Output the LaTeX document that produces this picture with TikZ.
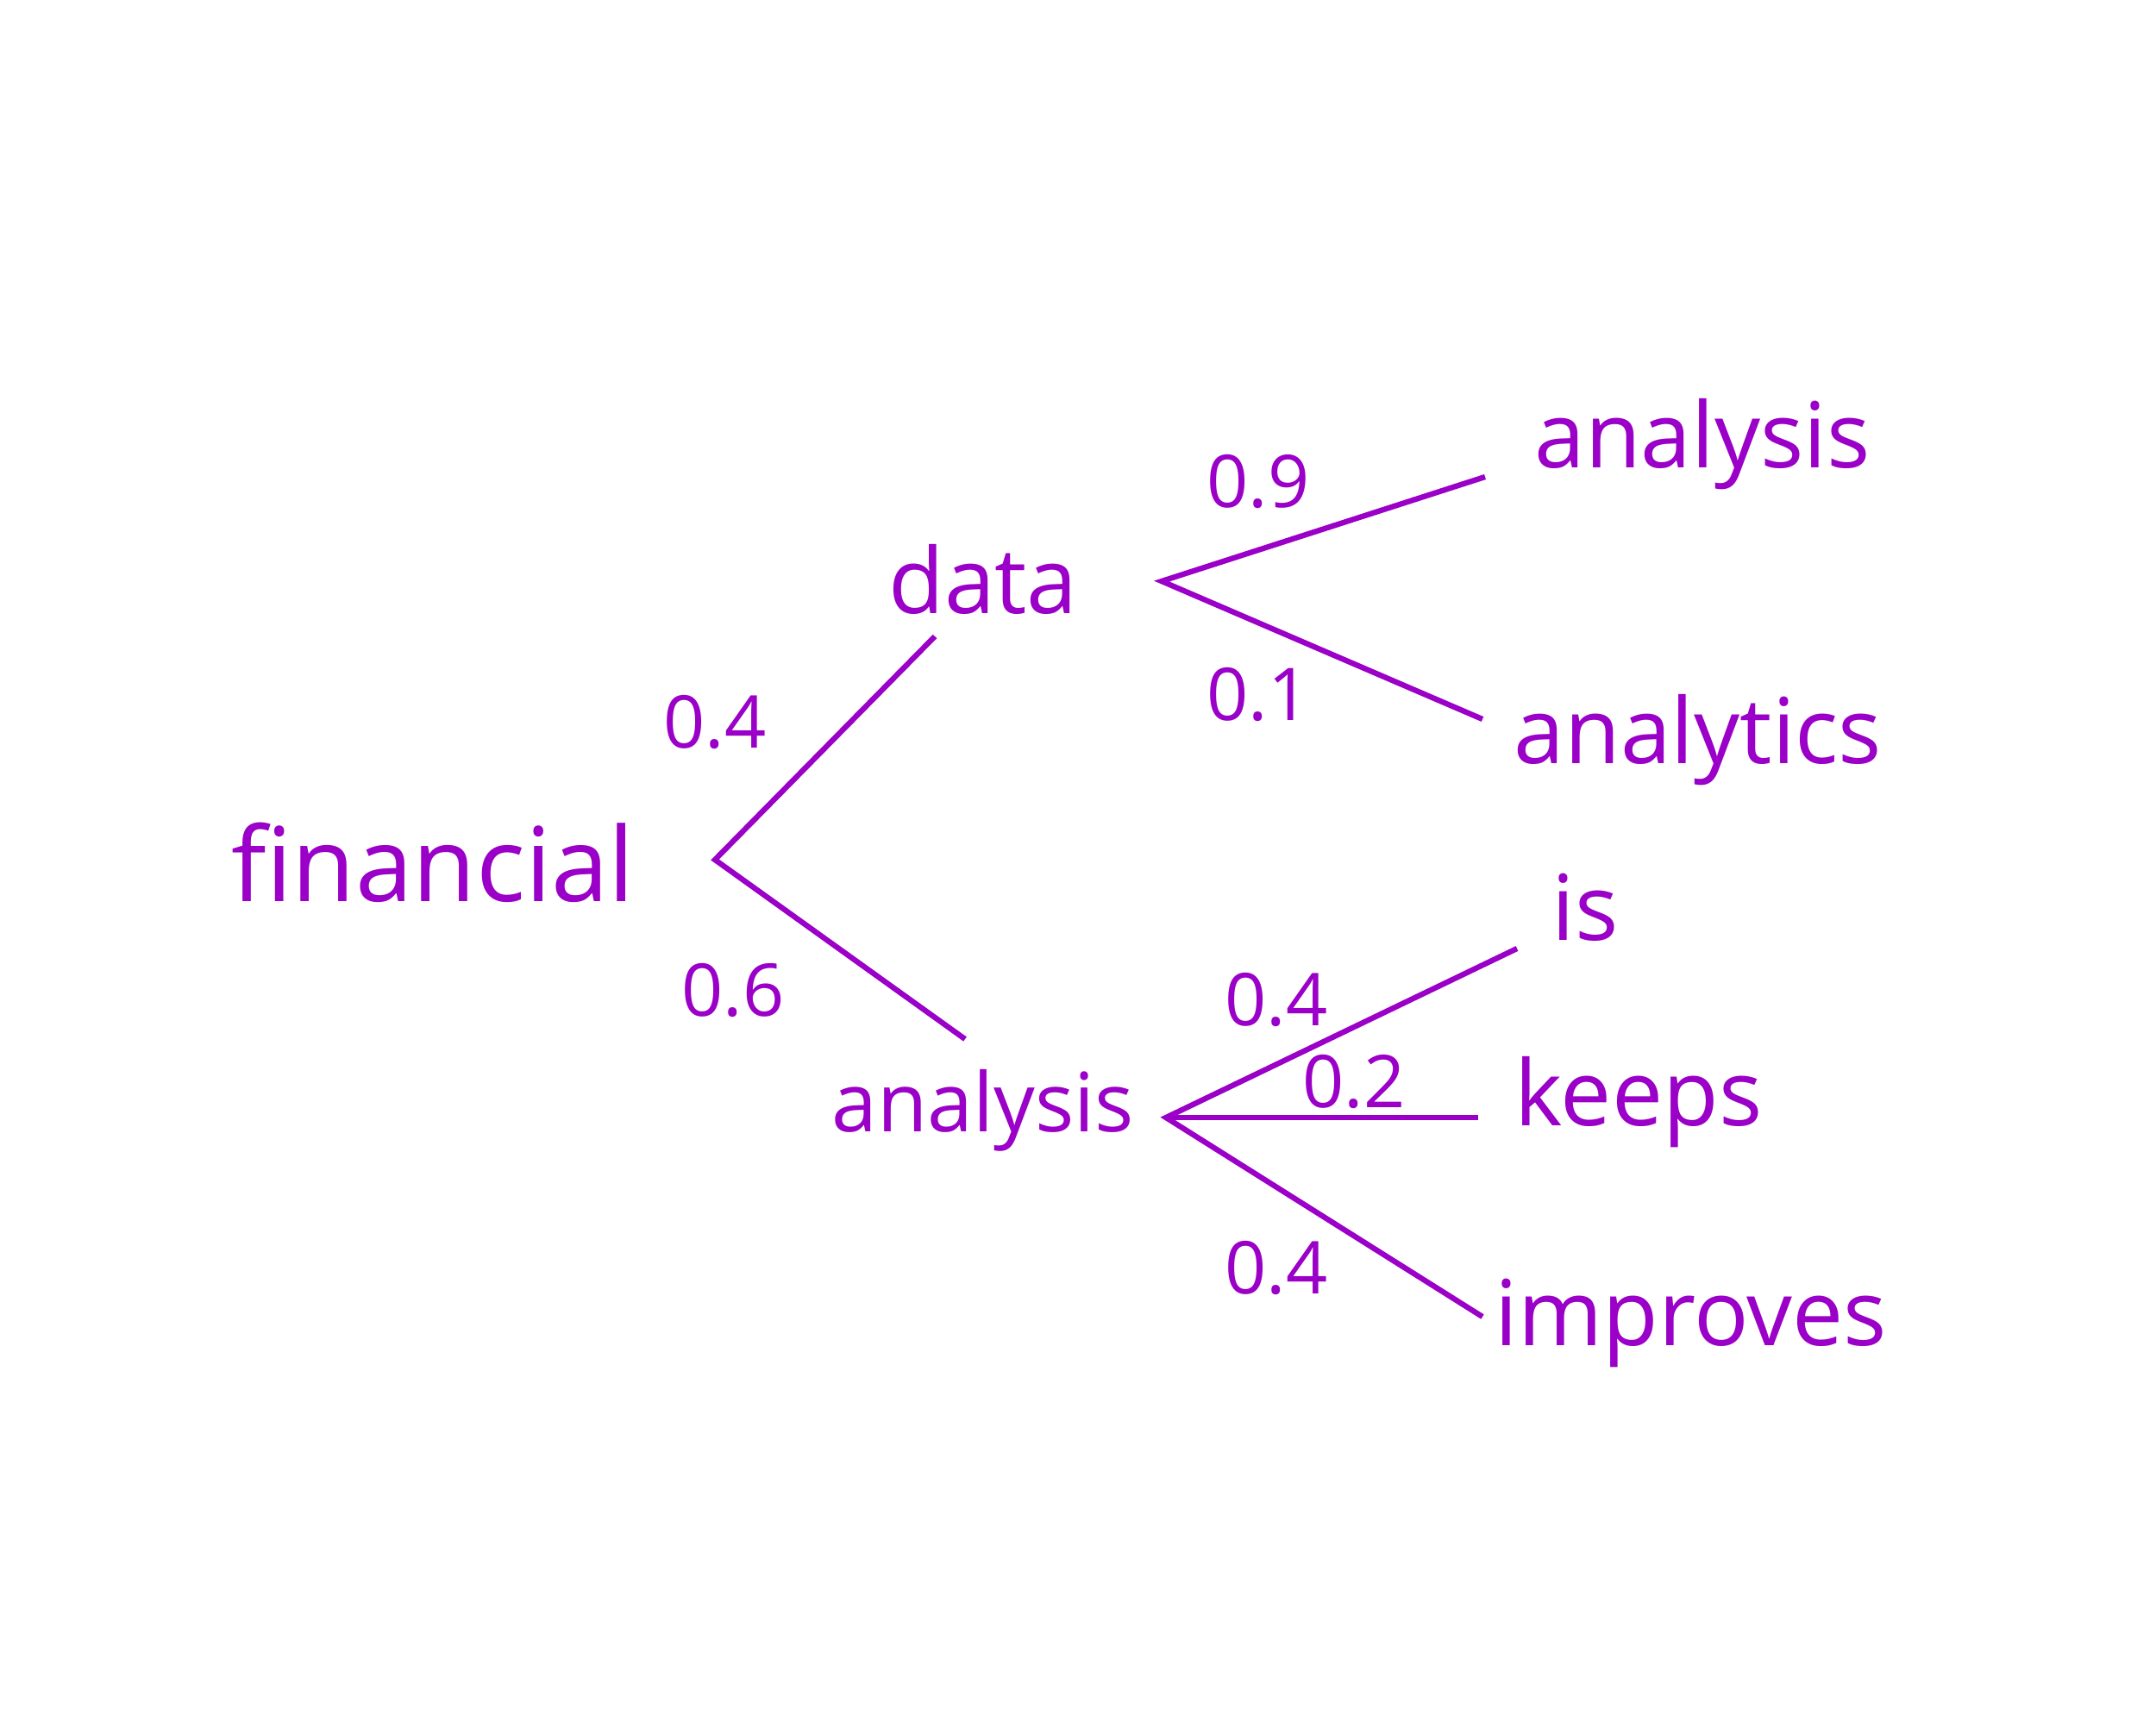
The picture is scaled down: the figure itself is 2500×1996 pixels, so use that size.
\documentclass[tikz,border=0pt]{standalone}
\usepackage{fontspec}
\setmainfont{Open Sans}
\definecolor{ink}{RGB}{155,0,200}
\begin{document}
\begin{tikzpicture}[x=0.01cm,y=-0.01cm,
  word/.style={text=ink,font=\fontsize{30}{36}\selectfont,inner sep=0pt},
  prob/.style={text=ink,font=\fontsize{24}{28}\selectfont,inner sep=0pt},
  edge/.style={draw=ink,line width=1.8pt,line join=miter}]
\useasboundingbox[fill=white] (0,0) rectangle (2500,1996);
% words
\node[word,font=\fontsize{34}{40}\selectfont] (fin) at (502,1000) {financial};
\node[word] (data) at (1140,672) {data};
\node[word] (ana) at (1974,515) {analysis};
\node[word] (anat) at (1969,858) {analytics};
\node[word,font=\fontsize{27}{32}\selectfont] (anb) at (1140,1288) {analysis};
\node[word] (is) at (1838,1052) {is};
\node[word] (keeps) at (1900,1278) {keeps};
\node[word] (impr) at (1961,1534) {improves};
% junctions and free ends
\coordinate (j0) at (829,997);
\coordinate (e1) at (1084,738);
\coordinate (e2) at (1119,1205);
\coordinate (j1) at (1347,674);
\coordinate (e3) at (1722,553);
\coordinate (e4) at (1719,834);
\coordinate (j2) at (1352,1296);
\coordinate (e5) at (1759,1100);
\coordinate (e6) at (1714,1296);
\coordinate (e7) at (1719,1527);
% connectors
\draw[edge] (e1) -- (j0) -- (e2);
\draw[edge] (e3) -- (j1) -- (e4);
\draw[edge] (e5) -- (j2) -- (e7);
\draw[edge] (j2) -- (e6);
% probabilities
\node[prob] (p1) at (829,837) {0.4};
\node[prob] (p2) at (850,1148) {0.6};
\node[prob] (p3) at (1459,558) {0.9};
\node[prob] (p4) at (1459,805) {0.1};
\node[prob] (p5) at (1480,1159) {0.4};
\node[prob] (p6) at (1570,1254) {0.2};
\node[prob] (p7) at (1480,1470) {0.4};
\end{tikzpicture}
\end{document}
